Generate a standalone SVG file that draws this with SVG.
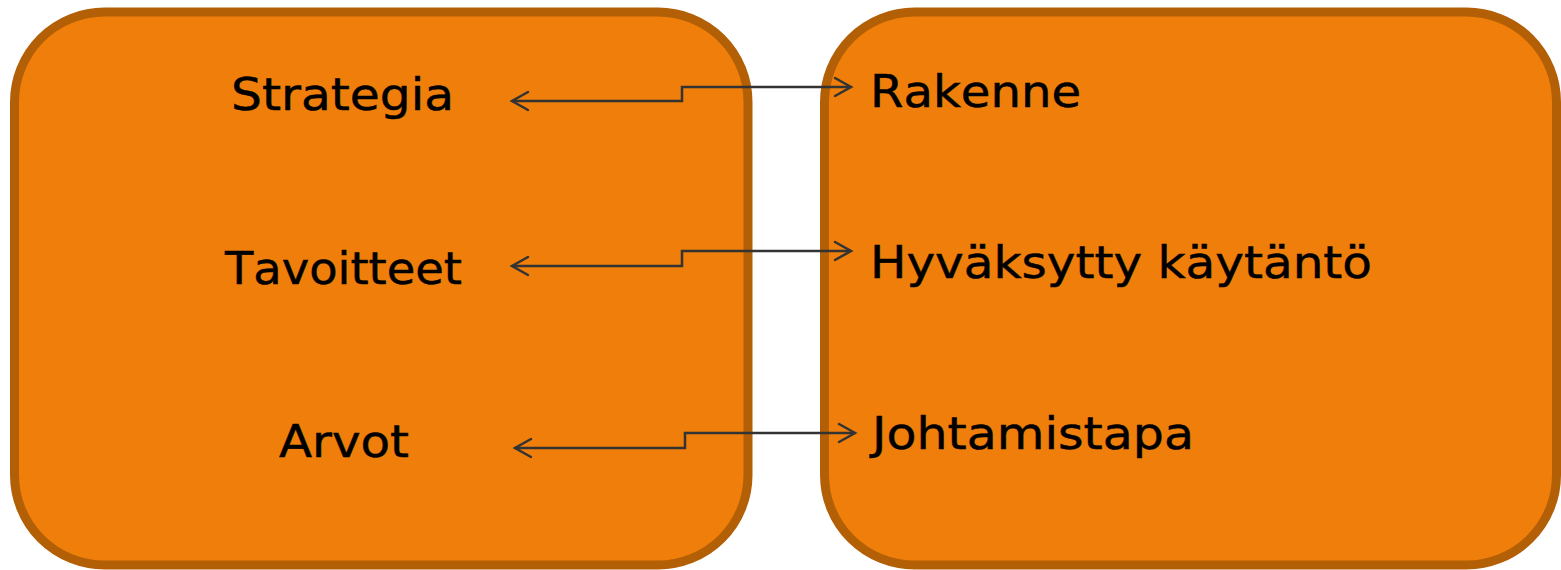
<svg xmlns="http://www.w3.org/2000/svg" width="1561" height="570" viewBox="0 0 1561 570">
  <style>
    .box { fill: #EF7F0A; stroke: #B35F06; stroke-width: 9; }
    .lbl { font-family: "DejaVu Sans", Verdana, sans-serif; font-size: 44px; fill: #000; stroke: #000; stroke-width: 0.5; font-kerning: none; }
    .wire { fill: none; stroke: #333333; stroke-width: 2.5; }
    .head { fill: none; stroke: #333333; stroke-width: 2.5; stroke-linecap: round; stroke-linejoin: miter; }
  </style>
  <rect width="1561" height="570" fill="#ffffff"/>

  <g id="left-box">
    <rect class="box" x="14.5" y="12" width="733.5" height="553" rx="90" ry="90"/>
    <text class="lbl" x="231" y="110" textLength="223" lengthAdjust="spacingAndGlyphs">Strategia</text>
    <text class="lbl" x="225" y="284" textLength="237" lengthAdjust="spacingAndGlyphs">Tavoitteet</text>
    <text class="lbl" x="279" y="457" textLength="130" lengthAdjust="spacingAndGlyphs">Arvot</text>
  </g>

  <g id="right-box">
    <rect class="box" x="824.5" y="12" width="732" height="553" rx="90" ry="90"/>
    <text class="lbl" x="870" y="107" textLength="211" lengthAdjust="spacingAndGlyphs">Rakenne</text>
    <text class="lbl" x="870" y="278" textLength="502" lengthAdjust="spacingAndGlyphs">Hyväksytty käytäntö</text>
    <text class="lbl" x="872" y="449" textLength="322" lengthAdjust="spacingAndGlyphs">Johtamistapa</text>
  </g>

  <g id="connectors">
    <path class="wire" d="M512 101 H682 V87 H851"/>
    <path class="head" d="M528 92 L512 101 L528 110"/>
    <path class="head" d="M835 78 L851 87 L835 96"/>

    <path class="wire" d="M512 266 H682 V251 H851"/>
    <path class="head" d="M528 257 L512 266 L528 275"/>
    <path class="head" d="M835 242 L851 251 L835 260"/>

    <path class="wire" d="M515 448 H685 V433 H855"/>
    <path class="head" d="M531 439 L515 448 L531 457"/>
    <path class="head" d="M839 424 L855 433 L839 442"/>
  </g>
</svg>
